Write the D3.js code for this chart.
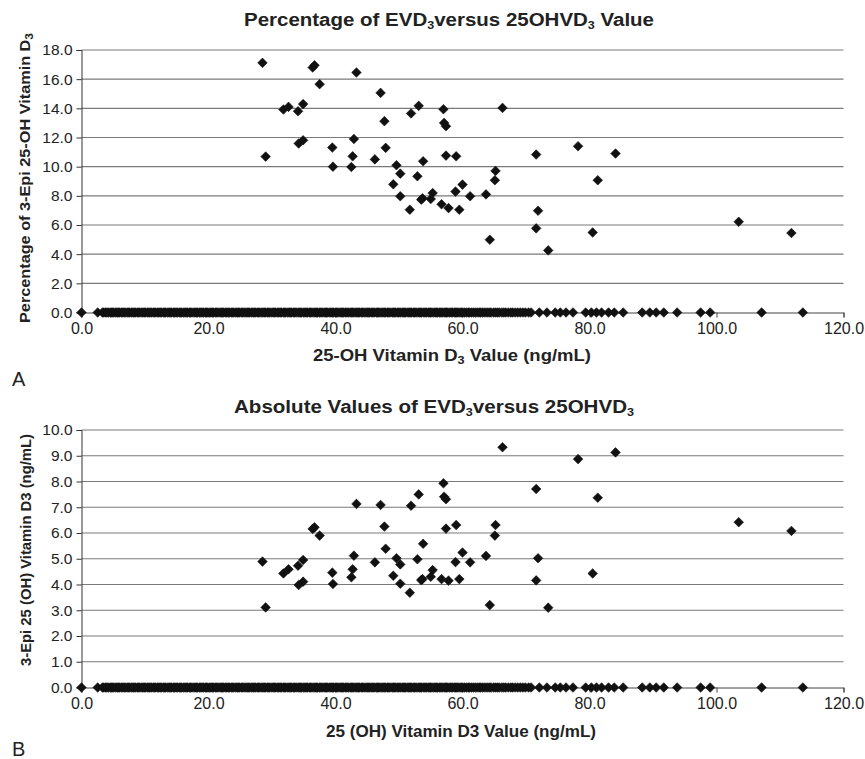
<!DOCTYPE html>
<html><head><meta charset="utf-8">
<script src="https://cdn.jsdelivr.net/npm/d3@7"></script>
<style>
html,body{margin:0;padding:0;background:#fff;}
svg{display:block;font-family:"Liberation Sans",Arial,sans-serif;}
</style></head>
<body>
<svg id="chart" width="865" height="759"></svg>
<script>
// 25-OH vitamin D3 values (ng/mL) with no detectable 3-epi D3 (y = 0)
const zeroX = [0, 2.55,
3.3,3.5,3.8,4.0,4.2,4.5,4.7,4.9,5.1,5.4,5.6,5.8,6.0,6.3,6.5,6.7,6.9,7.2,7.4,7.6,7.9,8.1,8.3,8.5,8.8,9.0,9.2,9.5,9.7,9.9,10.1,10.4,10.6,10.8,11.0,11.3,11.5,11.7,12.0,12.2,12.4,12.6,12.9,13.1,13.3,13.6,13.8,14.0,14.2,14.5,14.7,14.9,15.1,15.4,15.6,15.8,16.1,16.3,16.5,16.7,17.0,17.2,17.4,17.7,17.9,18.1,18.3,18.6,18.8,19.0,19.2,19.5,19.7,19.9,20.2,20.4,20.6,20.8,21.1,21.3,21.5,21.8,22.0,22.2,22.4,22.7,22.9,23.1,23.3,23.6,23.8,24.0,24.3,24.5,24.7,24.9,25.2,25.4,25.6,25.9,26.1,26.3,26.5,26.8,27.0,27.2,27.4,27.7,27.9,28.1,28.4,28.6,28.8,29.0,29.3,29.5,29.7,30.0,30.2,30.4,30.6,30.9,31.1,31.3,31.5,31.8,32.0,32.2,32.5,32.7,32.9,33.1,33.4,33.6,33.8,34.1,34.3,34.5,34.7,35.0,35.2,35.4,35.6,35.9,36.1,36.3,36.6,36.8,37.0,37.2,37.5,37.7,37.9,38.2,38.4,38.6,38.8,39.1,39.3,39.5,39.7,40.0,40.2,40.4,40.7,40.9,41.1,41.3,41.6,41.8,42.0,42.3,42.5,42.7,42.9,43.2,43.4,43.6,43.8,44.1,44.3,44.5,44.8,45.0,45.2,45.4,45.7,45.9,46.1,46.4,46.6,46.8,47.0,47.3,47.5,47.7,47.9,48.2,48.4,48.6,48.9,49.1,49.3,49.5,49.8,50.0,50.2,50.5,50.7,50.9,51.1,51.4,51.6,51.8,52.0,52.3,52.5,52.7,53.0,53.2,53.4,53.6,53.9,54.1,54.3,54.6,54.8,55.0,55.2,55.5,55.7,55.9,56.1,56.4,56.6,56.8,57.1,57.3,57.5,57.7,58.0,58.2,58.4,58.7,58.9,59.1,59.3,59.6,59.8,60.0,60.3,60.6,60.9,61.1,61.4,61.7,62.0,62.3,62.6,62.8,63.1,63.4,63.7,64.0,64.3,64.5,64.9,65.2,65.5,65.8,66.2,66.5,66.8,67.2,67.6,67.9,68.3,68.7,69.1,69.5,69.9,70.4,70.8,
72.1,73.3,74.6,75.4,76.3,77.4,79.4,80.3,81.1,81.9,83.0,83.9,85.3,88.3,89.5,90.5,91.7,93.8,97.5,99.0,107.1,113.6];

// Samples with detectable 3-epi D3
const epiX = [28.5,29.0,31.8,32.6,34.1,34.9,34.2,34.9,36.4,36.7,37.5,39.5,39.6,42.5,42.7,42.9,43.3,46.2,47.1,47.7,47.9,49.1,49.6,50.2,50.2,51.7,51.9,52.9,53.1,53.5,53.7,53.8,55.0,55.3,56.7,57.0,57.1,57.4,57.4,57.8,58.9,59.0,59.5,60.0,61.2,63.7,64.3,65.1,65.2,66.3,71.6,71.6,71.9,73.5,78.2,80.5,81.3,84.1,103.5,111.8];
const epiPct = [17.12,10.69,13.92,14.10,13.80,14.29,11.59,11.81,16.80,16.95,15.66,11.31,10.00,9.98,10.71,11.90,16.46,10.50,15.06,13.12,11.29,8.79,10.10,9.52,7.97,7.05,13.65,9.34,14.17,7.74,7.83,10.37,7.78,8.19,7.42,13.94,13.00,12.77,10.76,7.16,8.29,10.71,7.05,8.77,7.97,8.10,4.99,9.07,9.71,14.03,10.83,5.77,6.98,4.26,11.40,5.49,9.07,10.90,6.22,5.45];
const epiAbs = [4.89,3.11,4.43,4.59,4.73,4.95,3.98,4.11,6.16,6.22,5.90,4.46,4.02,4.28,4.59,5.12,7.13,4.86,7.09,6.25,5.39,4.34,5.02,4.78,4.03,3.68,7.06,4.98,7.50,4.17,4.21,5.58,4.30,4.56,4.21,7.93,7.41,7.31,6.17,4.15,4.87,6.31,4.21,5.24,4.86,5.11,3.20,5.90,6.31,9.33,7.71,4.16,5.02,3.10,8.87,4.43,7.37,9.13,6.42,6.08];

const xTicks = [0,20,40,60,80,100,120];
const yTicksA = [0,2,4,6,8,10,12,14,16,18];
const yTicksB = [0,1,2,3,4,5,6,7,8,9,10];

const svg = d3.select("#chart");
const FONT = '"Liberation Sans",Arial,sans-serif';
const diamond = "M0,-4.8L4.8,0L0,4.8L-4.8,0Z";

function addSubText(g, parts, attrs) {
  const t = g.append("text");
  Object.entries(attrs).forEach(([k,v]) => t.attr(k,v));
  parts.forEach(p => {
    const ts = t.append("tspan").text(p.t);
    if (p.sub) ts.attr("font-size", p.fs || 11).attr("baseline-shift", "-28%");
  });
  return t;
}

function panel(cfg) {
  const g = svg.append("g");
  const x = d3.scaleLinear().domain([0,120]).range([81.5, 843.5]);
  const y = d3.scaleLinear().domain([0, cfg.yMax]).range([cfg.y0, cfg.yTop]);

  g.append("g").selectAll("line").data(cfg.yTicks.filter(d => d > 0)).join("line")
    .attr("x1", x(0)).attr("x2", x(120))
    .attr("y1", d => y(d)).attr("y2", d => y(d))
    .attr("stroke", "#7a7a7a").attr("stroke-width", 1.2);

  const ya = g.append("g").attr("transform", `translate(${x(0)},0)`)
    .call(d3.axisLeft(y).tickValues(cfg.yTicks).tickFormat(d3.format(".1f")).tickSize(5).tickPadding(4));
  ya.select(".domain").attr("stroke", "#333");
  ya.selectAll(".tick line").attr("stroke", "#333");
  ya.selectAll("text").attr("font-family", FONT).attr("font-size", 15.5).attr("fill", "#222");

  const xa = g.append("g").attr("transform", `translate(0,${y(0)})`)
    .call(d3.axisBottom(x).tickValues(xTicks).tickFormat(d3.format(".1f")).tickSize(5).tickPadding(5));
  xa.select(".domain").attr("stroke", "#444");
  xa.selectAll(".tick line").attr("stroke", "#444");
  xa.selectAll("text").attr("font-family", FONT).attr("font-size", 16).attr("fill", "#222");

  g.append("g").selectAll("path").data(zeroX).join("path")
    .attr("d", diamond).attr("fill", "#111").attr("stroke", "#111").attr("stroke-width", 0.6)
    .attr("transform", d => `translate(${x(d)},${y(0)})`);
  g.append("g").selectAll("path").data(epiX.map((d,i) => [d, cfg.vals[i]])).join("path")
    .attr("d", diamond).attr("fill", "#111").attr("stroke", "#111").attr("stroke-width", 0.6)
    .attr("transform", d => `translate(${x(d[0])},${y(d[1])})`);

  addSubText(g, cfg.title, {x: cfg.titleX, y: cfg.titleY, "text-anchor": "middle", "font-size": 18, "font-weight": "bold", fill: "#222", "font-family": FONT, textLength: cfg.titleLen, lengthAdjust: "spacingAndGlyphs"});
  addSubText(g, cfg.xTitle, {x: cfg.xTitleX, y: cfg.xTitleY, "text-anchor": "middle", "font-size": 16, "font-weight": "bold", fill: "#222", "font-family": FONT, textLength: cfg.xTitleLen, lengthAdjust: "spacingAndGlyphs"});
  addSubText(g, cfg.yTitle, {transform: `translate(${cfg.yTitleX},${cfg.yTitleY}) rotate(-90)`, "text-anchor": "middle", "font-size": cfg.yTitleFs, "font-weight": "bold", fill: "#222", "font-family": FONT, textLength: cfg.yTitleLen, lengthAdjust: "spacingAndGlyphs"});
  g.append("text").attr("x", 12).attr("y", cfg.letterY).attr("font-size", 20).attr("font-family", FONT).attr("fill", "#222").text(cfg.letter);
}

panel({
  yMax: 18, y0: 312.5, yTop: 50, yTicks: yTicksA, vals: epiPct,
  title: [{t:"Percentage of EVD"},{t:"3",sub:true},{t:"versus 25OHVD"},{t:"3",sub:true},{t:" Value"}],
  titleX: 449, titleY: 26, titleLen: 410,
  xTitle: [{t:"25-OH Vitamin D"},{t:"3",sub:true},{t:" Value (ng/mL)"}],
  xTitleX: 452, xTitleY: 361, xTitleLen: 278,
  yTitle: [{t:"Percentage of 3-Epi 25-OH Vitamin D"},{t:"3",sub:true}],
  yTitleX: 30, yTitleY: 178, yTitleLen: 290, yTitleFs: 15,
  letter: "A", letterY: 386
});
panel({
  yMax: 10, y0: 687.5, yTop: 430, yTicks: yTicksB, vals: epiAbs,
  title: [{t:"Absolute Values of EVD"},{t:"3",sub:true},{t:"versus 25OHVD"},{t:"3",sub:true}],
  titleX: 434, titleY: 413, titleLen: 400,
  xTitle: [{t:"25 (OH) Vitamin D3 Value (ng/mL)"}],
  xTitleX: 461, xTitleY: 737, xTitleLen: 270,
  yTitle: [{t:"3-Epi 25 (OH) Vitamin D3 (ng/mL)"}],
  yTitleX: 31, yTitleY: 550, yTitleLen: 232, yTitleFs: 14,
  letter: "B", letterY: 756
});
</script>
</body></html>
